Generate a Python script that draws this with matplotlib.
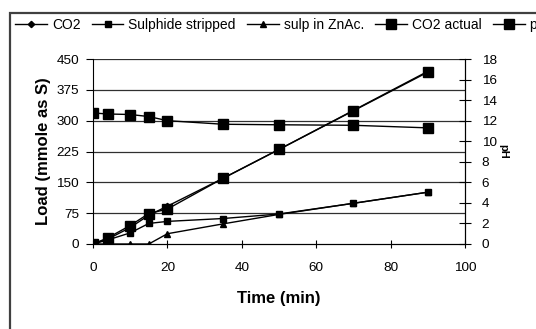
import matplotlib
matplotlib.use("Agg")
matplotlib.rcParams["font.family"] = ["Liberation Sans", "DejaVu Sans"]
import matplotlib.pyplot as plt
from matplotlib.patches import Rectangle

# data
time = [0, 4, 10, 15, 20, 35, 50, 70, 90]
co2 = [0, 12, 40, 70, 92, 160, 230, 325, 420]
sulphide_stripped = [0, 10, 27, 50, 55, 62, 73, 99, 126]
sulp_znac = [0, 0, 0, 0, 25, 49, 72, 99, 126]
co2_actual = [0, 15, 45, 74, 85, 160, 230, 324, 418]
ph = [12.75, 12.65, 12.6, 12.4, 12.0, 11.65, 11.6, 11.55, 11.3]

fig = plt.figure(figsize=(5.36, 3.29), dpi=100)
ax = fig.add_axes([93 / 536, 1 - 244 / 329, (465 - 93) / 536, (244 - 59) / 329])
ax2 = ax.twinx()

# chart area frame (cut off at right/bottom like the reference)
fig.patches.append(Rectangle((10 / 536, -0.05), 1.2, 1 - 13 / 329 + 0.05,
                             transform=fig.transFigure, fill=False,
                             edgecolor="#404040", lw=1.6))

l1, = ax.plot(time, co2, color="black", lw=1, marker="D", ms=3.2)
l2, = ax.plot(time, sulphide_stripped, color="black", lw=1, marker="s", ms=4)
l3, = ax.plot(time, sulp_znac, color="black", lw=1, marker="^", ms=4.2)
l4, = ax.plot(time, co2_actual, color="black", lw=1, marker="s", ms=7.5)
l5, = ax2.plot(time, ph, color="black", lw=1, marker="s", ms=7.5)

ax.set_xlim(0, 100)
ax.set_ylim(0, 450)
ax.set_xticks(range(0, 101, 20))
ax.set_yticks(range(0, 451, 75))
ax2.set_ylim(0, 18)
ax2.set_yticks(range(0, 19, 2))

for y in range(75, 451, 75):
    ax.axhline(y, color="#303030", lw=0.9, zorder=0)

for a in (ax, ax2):
    a.spines["top"].set_visible(False)
    a.tick_params(length=4, width=0.8, labelsize=9.7, colors="black")
ax.tick_params(axis="y", direction="out", length=5, pad=5)
ax.tick_params(axis="x", direction="inout", length=6, pad=10)
ax2.tick_params(axis="y", direction="inout", length=8, pad=8)
ax2.spines["left"].set_visible(False)

ax.set_xlabel("Time (min)", fontsize=12, fontweight="bold", labelpad=12)
ax.set_ylabel("Load (mmole as S)", fontsize=12, fontweight="bold", labelpad=4)
ax2.set_ylabel("pH", fontsize=8, fontweight="bold", rotation=270, labelpad=8)

fig.legend([l1, l2, l3, l4, l5],
           ["CO2", "Sulphide stripped", "sulp in ZnAc.", "CO2 actual", "pH"],
           loc="center left", bbox_to_anchor=(15 / 536, 1 - 25 / 329), ncol=5,
           frameon=False, fontsize=10, handlelength=2.3, handletextpad=0.35,
           columnspacing=0.8, borderaxespad=0, borderpad=0)

fig.savefig("out.png", dpi=100)
